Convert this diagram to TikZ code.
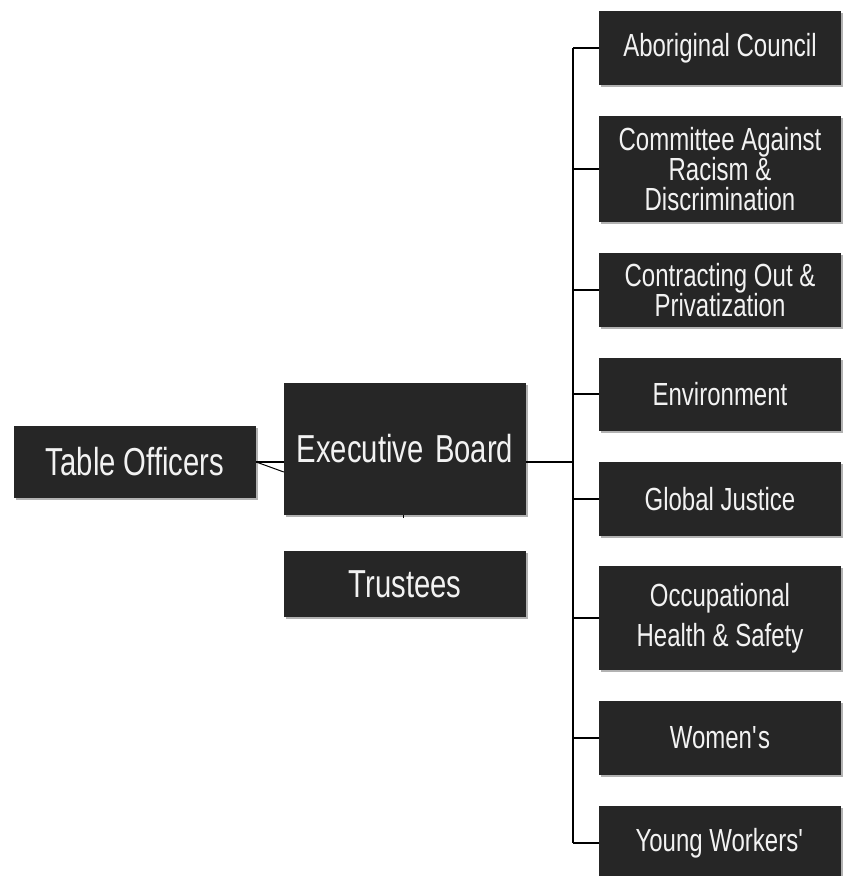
\documentclass[tikz,border=0pt]{standalone}
\usepackage{fontspec}
\setmainfont{Liberation Sans}[FakeStretch=0.75]
\usetikzlibrary{shadows}
\definecolor{boxfill}{HTML}{262626}
\definecolor{boxtext}{HTML}{F2F2F2}
\tikzset{
  orgbox/.style={fill=boxfill, text=boxtext, minimum width=242pt, inner sep=0pt,
    align=center, drop shadow={shadow xshift=1.5pt, shadow yshift=-2pt, fill=black, opacity=0.3}},
  bigtext/.style={font=\fontsize{39}{42}\selectfont},
  smalltext/.style={font=\fontsize{32}{30}\selectfont},
  link/.style={draw=black, line width=1.6pt},
}
\begin{document}
\begin{tikzpicture}[x=1pt, y=-1pt]
\useasboundingbox (0,0) rectangle (843,876);

% left column
\node[orgbox, bigtext, minimum height=72pt] (table) at (135,462) {Table Officers};
\node[orgbox, bigtext, minimum height=132pt] (exec) at (405,449) {Executive\hspace{0.3em}Board};
\node[orgbox, bigtext, minimum height=66pt] (trustees) at (405,584) {Trustees};

% committees
\node[orgbox, smalltext, minimum height=74pt] (aboriginal) at (720,48) {Aboriginal Council};
\node[orgbox, smalltext, minimum height=106pt] (committee) at (720,169) {Committee Against\\Racism \&\\Discrimination};
\node[orgbox, smalltext, minimum height=74pt] (contracting) at (720,290) {Contracting Out \&\\Privatization};
\node[orgbox, smalltext, minimum height=73pt] (environment) at (720,394) {Environment};
\node[orgbox, smalltext, minimum height=74pt] (global) at (720,499) {Global Justice};
\node[orgbox, font=\fontsize{32}{40}\selectfont, minimum height=104pt] (occupational) at (720,618) {Occupational\\Health \& Safety};
\node[orgbox, smalltext, minimum height=74pt] (womens) at (720,738) {Women\textquotesingle s};
\node[orgbox, smalltext, minimum height=74pt] (young) at (720,843) {Young Workers\textquotesingle};

% trunk feeding the committees
\coordinate (hub) at (573,462);
\draw[link] (exec.east |- hub) -- (hub);
\draw[link] (hub |- aboriginal.west) -- (hub |- young.west);
\foreach \c in {aboriginal, committee, contracting, environment, global, occupational, womens, young}
  \draw[link] (hub |- \c.west) -- (\c.west);

% table officers to executive board
\draw[link] (table.east) -- (exec.west |- table.east);
\draw[black, line width=1pt] (table.east) -- ([yshift=-10pt]exec.west |- table.east);

% stub below the executive board
\draw[black, line width=1pt] ([xshift=-2pt]exec.south) -- ++(0,3);
\end{tikzpicture}
\end{document}
